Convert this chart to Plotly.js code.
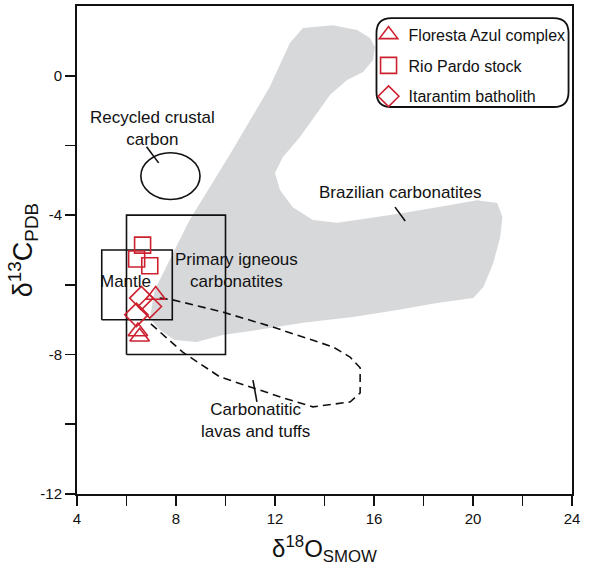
<!DOCTYPE html>
<html><head><meta charset="utf-8">
<script src="https://cdn.plot.ly/plotly-3.0.1.min.js"></script>
<style>html,body{margin:0;padding:0;background:#fff}#chart{width:591px;height:572px}</style>
</head><body><div id="chart"></div>
<script>
// ---- sample data (δ18O, δ13C) ----
const florestaX = [7.18, 6.46, 6.53];
const florestaY = [-6.29, -7.34, -7.49];
const rioPardoX = [6.65, 6.41, 6.94];
const rioPardoY = [-4.86, -5.26, -5.45];
const itarantimX = [6.60, 6.94, 6.40];
const itarantimY = [-6.38, -6.62, -6.86];

// ---- field outlines ----
const brazilX = [13.13,14.34,15.32,15.84,16.04,15.96,15.56,14.91,14.22,13.70,13.01,12.32,12.00,12.20,12.72,13.53,14.51,15.84,17.18,18.55,20.17,20.98,21.19,21.10,20.82,20.42,20.01,18.55,16.94,15.15,13.13,11.79,9.89,8.84,7.95,7.34,6.94,7.14,8.55,10.17,11.47,11.79,12.60,13.13];
const brazilY = [1.37,1.45,1.31,1.08,0.82,0.45,0.11,-0.12,-0.55,-1.07,-1.76,-2.33,-2.79,-3.28,-3.77,-4.14,-4.22,-4.08,-3.94,-3.77,-3.57,-3.65,-4.05,-4.63,-5.37,-6.06,-6.38,-6.52,-6.72,-6.92,-7.09,-7.24,-7.44,-7.64,-7.58,-7.29,-6.95,-6.15,-4.14,-2.27,-0.70,-0.32,0.94,1.37];
const lavaX = [7.34,7.87,9.89,11.91,14.34,15.03,15.44,15.44,15.03,13.53,12.32,11.11,9.77,8.27,6.94];
const lavaY = [-6.38,-6.43,-6.78,-7.21,-7.78,-8.07,-8.38,-9.10,-9.36,-9.50,-9.24,-8.96,-8.64,-7.93,-7.09];
const mantleBox = {x: [5, 7.85], y: [-7, -5]};
const primaryBox = {x: [6, 10], y: [-8, -4]};
const crustalEllipse = {x: [6.58, 8.97], y: [-3.55, -2.21]};
const leaderCrustal = {x: [6.81, 7.30], y: [-2.04, -2.50]};
const leaderBrazil = {x: [16.85, 17.26], y: [-3.77, -4.17]};
const leaderLava = {x: [11.11, 11.27], y: [-8.73, -9.36]};

// ---- ticks ----
const xTickVals = [4,6,8,10,12,14,16,18,20,22,24];
const xTickText = ['4','','8','','12','','16','','20','','24'];
const yTickVals = [-12,-10,-8,-6,-4,-2,0];
const yTickText = ['-12','','-8','','-4','','0'];

const red = '#cc2230';
const FONT = '"Liberation Sans", Arial, Helvetica, sans-serif';

function boxXY(b){ return {x:[b.x[0],b.x[1],b.x[1],b.x[0],b.x[0]], y:[b.y[0],b.y[0],b.y[1],b.y[1],b.y[0]]}; }
const mb = boxXY(mantleBox), pb = boxXY(primaryBox);

const blackLine = {color:'#111', width:1.6};
const traces = [
  {x: brazilX, y: brazilY, mode:'lines', fill:'toself', fillcolor:'#d7d8da', line:{width:0, color:'#d7d8da'}, showlegend:false, hoverinfo:'skip'},
  {x: mb.x, y: mb.y, mode:'lines', line: blackLine, showlegend:false, hoverinfo:'skip'},
  {x: pb.x, y: pb.y, mode:'lines', line: blackLine, showlegend:false, hoverinfo:'skip'},
  {x: lavaX, y: lavaY, mode:'lines', line:{color:'#111', width:1.6, dash:'8px,5px'}, showlegend:false, hoverinfo:'skip'},
  {x: leaderCrustal.x, y: leaderCrustal.y, mode:'lines', line: blackLine, showlegend:false, hoverinfo:'skip'},
  {x: leaderBrazil.x, y: leaderBrazil.y, mode:'lines', line: blackLine, showlegend:false, hoverinfo:'skip'},
  {x: leaderLava.x, y: leaderLava.y, mode:'lines', line: blackLine, showlegend:false, hoverinfo:'skip'},
  {x: florestaX, y: florestaY, mode:'markers', name:'Floresta Azul complex', legendgroup:'a',
   marker:{symbol:'triangle-up-open', size:17, color:red, line:{width:1.6, color:red}}},
  {x: rioPardoX, y: rioPardoY, mode:'markers', name:'Rio Pardo stock', legendgroup:'b',
   marker:{symbol:'square-open', size:16, color:red, line:{width:1.6, color:red}}},
  {x: itarantimX, y: itarantimY, mode:'markers', name:'Itarantim batholith', legendgroup:'c',
   marker:{symbol:'diamond-open', size:18, color:red, line:{width:1.6, color:red}}}
];

const annFont = {family: FONT, size: 17, color:'#111'};
const layout = {
  width:591, height:572,
  margin:{l:77, r:19, t:6, b:78, autoexpand:false},
  paper_bgcolor:'#fff', plot_bgcolor:'#fff',
  font:{family: FONT, size:15, color:'#111'},
  xaxis:{range:[4,24], tickvals:xTickVals, ticktext:xTickText, ticks:'outside', ticklen:10, tickwidth:1.6, tickcolor:'#111',
         showline:true, linecolor:'#111', linewidth:2, mirror:true, showgrid:false, zeroline:false,
         tickfont:{family:FONT, size:15, color:'#111'},
         title:{text:'δ<sup>18</sup>O<sub>SMOW</sub>', font:{family:FONT, size:24, color:'#111'}, standoff:14}},
  yaxis:{range:[-12,2], tickvals:yTickVals, ticktext:yTickText, ticks:'outside', ticklen:10, tickwidth:1.6, tickcolor:'#111',
         showline:true, linecolor:'#111', linewidth:2, mirror:true, showgrid:false, zeroline:false,
         tickfont:{family:FONT, size:15, color:'#111'},
         title:{text:'δ<sup>13</sup>C<sub>PDB</sub>', font:{family:FONT, size:27, color:'#111'}, standoff:0}},
  showlegend:true,
  legend:{x:0.589, y:0.976, xanchor:'left', yanchor:'top', bgcolor:'rgba(0,0,0,0)', borderwidth:0,
          font:{family:FONT, size:16, color:'#111'}, traceorder:'grouped', tracegroupgap:7, itemwidth:30},
  shapes:[
    {type:'circle', xref:'x', yref:'y', x0:crustalEllipse.x[0], x1:crustalEllipse.x[1], y0:crustalEllipse.y[0], y1:crustalEllipse.y[1], line:{color:'#111', width:1.6}},
    {type:'path', xref:'paper', yref:'paper', layer:'above',
     path:'M 0.635 0.975 L 0.963 0.975 Q 0.993 0.975 0.993 0.944 L 0.993 0.824 Q 0.993 0.793 0.963 0.793 L 0.635 0.793 Q 0.605 0.793 0.605 0.824 L 0.605 0.944 Q 0.605 0.975 0.635 0.975 Z',
     line:{color:'#111', width:1.8}}
  ],
  annotations:[
    {x:7.06, y:-1.50, xref:'x', yref:'y', text:'Recycled crustal<br>carbon', showarrow:false, font:annFont, align:'center'},
    {x:5.96, y:-5.89, xref:'x', yref:'y', text:'Mantle', showarrow:false, font:annFont},
    {x:10.45, y:-5.58, xref:'x', yref:'y', text:'Primary igneous<br>carbonatites', showarrow:false, font:annFont, align:'center'},
    {x:17.06, y:-3.34, xref:'x', yref:'y', text:'Brazilian carbonatites', showarrow:false, font:annFont},
    {x:11.23, y:-9.90, xref:'x', yref:'y', text:'Carbonatitic<br>lavas and tuffs', showarrow:false, font:annFont, align:'center'}
  ]
};
Plotly.newPlot('chart', traces, layout, {displayModeBar:false, staticPlot:true});
</script></body></html>
